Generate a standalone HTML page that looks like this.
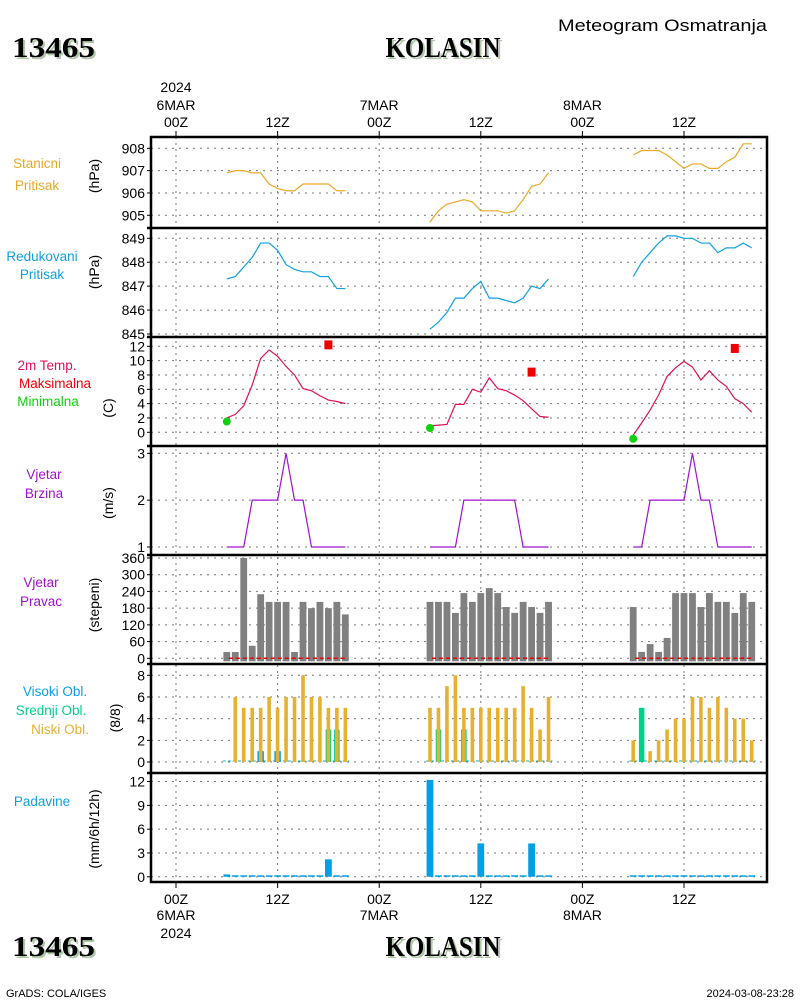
<!DOCTYPE html>
<html><head><meta charset="utf-8"><style>
html,body{margin:0;padding:0;background:#fff;}
svg{display:block;font-family:"Liberation Sans",sans-serif;}
</style></head><body>
<svg id="chart" width="800" height="1000" viewBox="0 0 800 1000"></svg>
<script>
// ---- data (hourly 06Z..20Z for each of 3 days) ----
const dayStarts = [6, 30, 54];
const pStation = [
 [906.9,907.0,907.0,906.9,906.9,906.4,906.2,906.1,906.1,906.4,906.4,906.4,906.4,906.1,906.1],
 [904.7,905.2,905.5,905.6,905.7,905.6,905.2,905.2,905.2,905.1,905.2,905.7,906.3,906.4,906.9],
 [907.7,907.9,907.9,907.9,907.7,907.4,907.1,907.3,907.3,907.1,907.1,907.4,907.6,908.2,908.2]];
const pReduced = [
 [847.3,847.4,847.8,848.2,848.8,848.8,848.5,847.9,847.7,847.6,847.6,847.4,847.4,846.9,846.9],
 [845.2,845.5,845.9,846.5,846.5,846.9,847.2,846.5,846.5,846.4,846.3,846.5,847.0,846.9,847.3],
 [847.4,848.0,848.4,848.8,849.1,849.1,849.0,849.0,848.8,848.8,848.4,848.6,848.6,848.8,848.6]];
const temp = [
 [2.0,2.5,3.7,6.6,10.3,11.5,10.6,9.2,8.0,6.1,5.8,5.1,4.5,4.3,4.0],
 [0.9,1.0,1.1,3.9,3.9,6.0,5.6,7.6,6.1,5.8,5.2,4.4,3.3,2.2,2.1],
 [-0.4,1.3,3.1,5.2,7.8,9.0,9.9,9.1,7.3,8.6,7.3,6.4,4.7,4.0,2.8]];
const tMaxHours = [18, 42, 66];
const tMaxValues = [12.2, 8.4, 11.7];
const tMinHours = [6, 30, 54];
const tMinValues = [1.5, 0.6, -0.9];
const windSpeed = [
 [1,1,1,2,2,2,2,3,2,2,1,1,1,1,1],
 [1,1,1,1,2,2,2,2,2,2,2,1,1,1,1],
 [1,1,2,2,2,2,2,3,2,2,1,1,1,1,1]];
const windDir = [
 [22.5,22.5,360,45,230,202.5,202.5,202.5,22.5,202.5,180,202.5,180,202.5,157.5],
 [202.5,202.5,202.5,163,234,202.5,234,252,234,184,163,202.5,184,163,202.5],
 [184,23,51,23,73,234,234,234,184,234,202.5,202.5,163,234,202.5]];
const cloudHigh = [
 [0,0,0,0,1,0,1,0,0,0,0,0,0,0,0],
 [0,0,0,0,0,0,0,0,0,0,0,0,0,0,0],
 [0,0,0,0,0,0,0,0,0,0,0,0,0,0,0]];
const cloudMid = [
 [0,0,0,0,0,0,0,0,0,0,0,0,3,3,0],
 [0,3,0,0,3,0,0,0,0,0,0,0,0,0,0],
 [0,5,0,0,0,0,0,0,0,0,0,0,0,0,0]];
const cloudLow = [
 [0,6,5,5,5,6,5,6,6,8,6,6,5,5,5],
 [5,5,7,8,5,5,5,5,5,5,5,7,5,3,6],
 [2,0,1,2,3,4,4,6,6,5,6,5,4,4,2]];
const precip = [
 [0.3,0,0,0,0,0,0,0,0,0,0,0,2.2,0,0],
 [12.2,0,0,0,0,0,4.2,0,0,0,0,0,4.2,0,0],
 [0,0,0,0,0,0,0,0,0,0,0,0,0,0,0]];
const ticksP1 = [905,906,907,908];
const ticksP2 = [845,846,847,848,849];
const ticksT = [0,2,4,6,8,10,12];
const ticksW = [1,2,3];
const ticksD = [0,60,120,180,240,300,360];
const ticksC = [0,2,4,6,8];
const ticksR = [0,3,6,9,12];
const timeHours = [0,12,24,36,48,60];
const timeLabels = ["00Z","12Z","00Z","12Z","00Z","12Z"];

// ---- layout ----
const NS="http://www.w3.org/2000/svg";
const svg=document.getElementById('chart');
const X0=151, X1=767;
function xH(h){return 176 + h*101.6/12;}
function lin(v0,y0,v1,y1){return v=>y0+(v-v0)*(y1-y0)/(v1-v0);}
const yP1=lin(908,148.3,905,215.3), yP2=lin(849,238.3,845,334), yT=lin(12,346.3,0,432.3),
 yW=lin(3,453.3,1,547), yD=lin(360,558,0,658.3), yC=lin(8,675.3,0,762), yR=lin(12,781.5,0,876.8);
const borders=[137,228,337,446,555,664,773,882];
function el(tag,attrs,name,inter,parent){const e=document.createElementNS(NS,tag);for(const k in attrs)e.setAttribute(k,attrs[k]);
 
 
 (parent||svg).appendChild(e);return e;}
function txt(x,y,s,opts,name){const t=el('text',Object.assign({x:x,y:y,'font-size':14,fill:'#000','text-anchor':'middle'},opts||{}),name,false);t.textContent=s;return t;}

timeHours.forEach(h=>{el('line',{x1:xH(h),x2:xH(h),y1:137,y2:882,stroke:'#777','stroke-dasharray':'2,4'},'vertical-grid-line',false);});
function yaxis(ticks,fy,name){ticks.forEach(v=>{const y=fy(v);
 el('line',{x1:X0,x2:X1,y1:y,y2:y,stroke:'#777','stroke-dasharray':'2,5'},name+'-grid',false);
 el('line',{x1:147,x2:151,y1:y,y2:y,stroke:'#000'},name+'-tick',false);
 txt(145,y+5,String(v),{'text-anchor':'end','font-size':14},name+'-tick-label');});}
yaxis(ticksP1,yP1,'station-pressure');yaxis(ticksP2,yP2,'reduced-pressure');yaxis(ticksT,yT,'temperature');
yaxis(ticksW,yW,'wind-speed');yaxis(ticksD,yD,'wind-direction');yaxis(ticksC,yC,'cloud');yaxis(ticksR,yR,'precip');

function line(data,fy,color,name){data.forEach((d,di)=>{const pts=d.map((v,i)=>xH(dayStarts[di]+i)+','+fy(v)).join(' ');
 el('polyline',{points:pts,fill:'none',stroke:color,'stroke-width':1.2},name,false);});}
line(pStation,yP1,'#e8a828','station-pressure-line');
line(pReduced,yP2,'#10a0e0','reduced-pressure-line');
line(temp,yT,'#e0105a','temperature-line');
line(windSpeed,yW,'#a010d0','wind-speed-line');
tMaxValues.forEach((v,i)=>{el('rect',{x:xH(tMaxHours[i])-4,y:yT(v)-4.5,width:8,height:9,fill:'#f00000'},'max-temp-marker',false);});
tMinValues.forEach((v,i)=>{el('circle',{cx:xH(tMinHours[i]),cy:yT(v),r:4,fill:'#10d010'},'min-temp-marker',false);});
windDir.forEach((d,di)=>d.forEach((v,i)=>{const x=xH(dayStarts[di]+i);
 el('rect',{x:x-3.4,y:yD(v),width:6.8,height:yD(0)-yD(v)+3,fill:'#808080'},'wind-direction-bar',false);}));
windDir.forEach((d,di)=>{el('line',{x1:xH(dayStarts[di])+2,x2:xH(dayStarts[di]+14),y1:yD(0),y2:yD(0),stroke:'#f00000','stroke-width':1.5,'stroke-dasharray':'4,3'},'wind-direction-zero-line',false);});
function bars(data,fy,w,color,name){data.forEach((d,di)=>d.forEach((v,i)=>{if(v<=0)return;const x=xH(dayStarts[di]+i);
 el('rect',{x:x-w/2,y:fy(v),width:w,height:fy(0)-fy(v),fill:color},name,false);}));}
cloudLow.forEach((d,di)=>{el('line',{x1:xH(dayStarts[di])-4,x2:xH(dayStarts[di]+14)+4,y1:yC(0)-1,y2:yC(0)-1,stroke:'#10b0c0','stroke-dasharray':'3,2'},'cloud-zero-line',false);});
bars(cloudHigh,yC,6.5,'#0aa0e0','high-cloud-bar');
bars(cloudMid,yC,5.5,'#00d08a','mid-cloud-bar');
bars(cloudLow,yC,3.6,'#e8b030','low-cloud-bar');
precip.forEach((d,di)=>d.forEach((v,i)=>{const x=xH(dayStarts[di]+i);const y=Math.min(yR(v),yR(0)-1.5);
 el('rect',{x:x-3.4,y:y,width:6.8,height:yR(0)-y,fill:'#00a0e8'},'precip-bar',false);}));

el('rect',{x:X0,y:137,width:X1-X0,height:745,fill:'none',stroke:'#000','stroke-width':2.5},'plot-frame',false);
borders.slice(1,-1).forEach(y=>el('line',{x1:X0-4,x2:X1,y1:y,y2:y,stroke:'#000','stroke-width':2.5},'panel-divider',false));
timeHours.forEach((h,i)=>{const x=xH(h);
 el('line',{x1:x,x2:x,y1:131,y2:137,stroke:'#000'},'top-time-tick',false);
 el('line',{x1:x,x2:x,y1:882,y2:888,stroke:'#000'},'bottom-time-tick',false);
 txt(x,127,timeLabels[i],{},'top-time-label');
 txt(x,904,timeLabels[i],{},'bottom-time-label');});
txt(xH(0),92,'2024',{},'top-year-label');txt(xH(0),110,'6MAR',{},'top-date-label');
txt(xH(24),110,'7MAR',{},'top-date-label');txt(xH(48),110,'8MAR',{},'top-date-label');
txt(xH(0),920,'6MAR',{},'bottom-date-label');txt(xH(0),938,'2024',{},'bottom-year-label');
txt(xH(24),920,'7MAR',{},'bottom-date-label');txt(xH(48),920,'8MAR',{},'bottom-date-label');

function lab(x,y,s,c,name){txt(x,y,s,{fill:c,'font-size':13.5},name);}
lab(37,168,'Stanicni','#e8a828','station-pressure-label');lab(37,190,'Pritisak','#e8a828','station-pressure-label');
lab(42,261,'Redukovani','#10a0e0','reduced-pressure-label');lab(42,279,'Pritisak','#10a0e0','reduced-pressure-label');
lab(47,370,'2m Temp.','#e0105a','temperature-label');lab(55,388,'Maksimalna','#f00000','max-temp-label');lab(48,406,'Minimalna','#10d010','min-temp-label');
lab(44,479,'Vjetar','#a010d0','wind-speed-label');lab(44,498,'Brzina','#a010d0','wind-speed-label');
lab(41,587,'Vjetar','#a010d0','wind-direction-label');lab(41,606,'Pravac','#a010d0','wind-direction-label');
lab(55,696,'Visoki Obl.','#0aa0e0','high-cloud-label');lab(51,715,'Srednji Obl.','#00d08a','mid-cloud-label');lab(60,734,'Niski Obl.','#e8b030','low-cloud-label');
lab(42,806,'Padavine','#10a0e0','precip-label');
function unit(x,y,s,name){txt(0,0,s,{transform:'translate('+x+','+y+') rotate(-90)'},name);}
unit(99,176,'(hPa)','station-pressure-unit');unit(99,272,'(hPa)','reduced-pressure-unit');
unit(113,408,'(C)','temperature-unit');unit(113,503,'(m/s)','wind-speed-unit');
unit(99,605,'(stepeni)','wind-direction-unit');unit(120,718,'(8/8)','cloud-unit');unit(99,829,'(mm/6h/12h)','precip-unit');

function title(x,y,s,anchor,len,name){
 const o={'font-family':'Liberation Serif, serif','font-weight':'bold','font-size':28,'text-anchor':anchor,textLength:len,lengthAdjust:'spacingAndGlyphs'};
 txt(x+2,y+2,s,Object.assign({},o,{fill:'#b0c8a8'}),name+'-shadow');
 txt(x,y,s,Object.assign({},o,{fill:'#000'}),name);}
title(12,57,'13465','start',83,'station-id-title');title(443,57,'KOLASIN','middle',115,'station-name-title');
title(12,956,'13465','start',83,'station-id-footer');title(443,956,'KOLASIN','middle',115,'station-name-footer');
txt(767,31,'Meteogram Osmatranja',{'text-anchor':'end','font-size':17,textLength:209,lengthAdjust:'spacingAndGlyphs'},'chart-title');
txt(6,997,'GrADS: COLA/IGES',{'text-anchor':'start','font-size':11},'credit-label');
txt(794,997,'2024-03-08-23:28',{'text-anchor':'end','font-size':11},'timestamp-label');
</script>
</body></html>
